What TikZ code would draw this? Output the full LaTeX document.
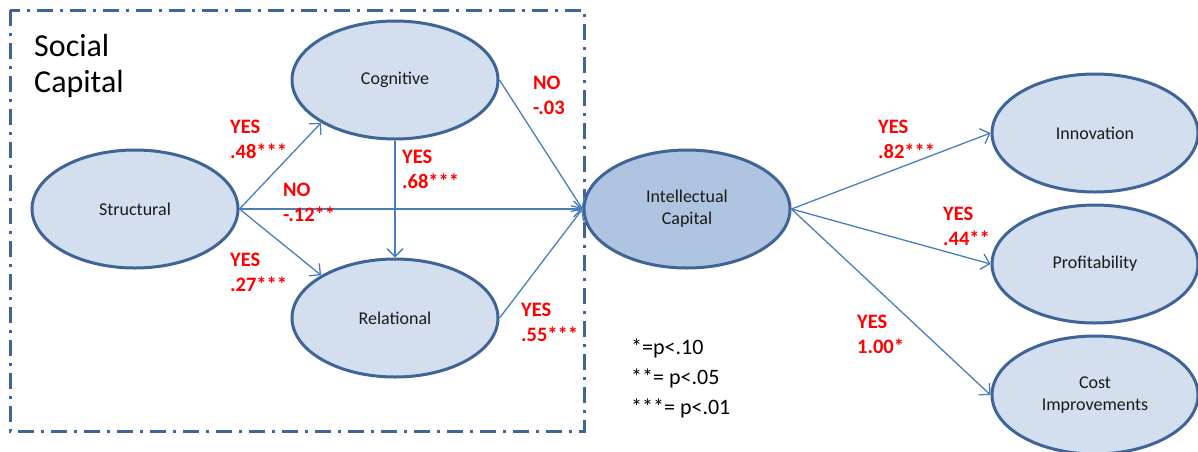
\documentclass[tikz,border=0pt]{standalone}
\usepackage{fontspec}
\setmainfont{Carlito}
\usetikzlibrary{shapes.geometric,arrows.meta}

\definecolor{ellborder}{HTML}{3F6495}
\definecolor{ellfill}{HTML}{D3DFEE}
\definecolor{icfill}{HTML}{AEC4E0}
\definecolor{linkblue}{HTML}{4A7EBB}
\definecolor{boxblue}{HTML}{3F6495}
\definecolor{textdark}{HTML}{1A1A1A}

\tikzset{
  construct/.style={ellipse, draw=ellborder, line width=3pt, fill=ellfill,
    minimum width=206pt, minimum height=118pt, inner sep=0pt, align=center,
    text=textdark, font=\fontsize{18}{22}\selectfont},
  link/.style={draw=linkblue, line width=1.3pt,
    -{Straight Barb[length=8pt,width=16pt,line width=1.3pt]}},
  coef/.style={anchor=north west, inner sep=0pt, align=left, text=red,
    font=\bfseries\fontsize{20.5}{25}\selectfont},
  legendtext/.style={anchor=north west, inner sep=0pt, align=left,
    font=\fontsize{22}{30}\selectfont},
  groupbox/.style={draw=boxblue, line width=3pt,
    dash pattern=on 16pt off 7pt on 3pt off 7pt}
}

\begin{document}
\begin{tikzpicture}[x=1pt,y=-1pt]
  \useasboundingbox (0,0) rectangle (1198,451);

  % social capital grouping frame
  \draw[groupbox] (10,10) rectangle (584,431);
  \node[anchor=north west, inner sep=0pt, align=left,
        font=\fontsize{32}{36}\selectfont] (sctitle) at (34,34) {Social\\Capital};

  % constructs
  \node[construct] (struct) at (135,209) {Structural};
  \node[construct] (cog) at (395,80) {Cognitive};
  \node[construct] (rel) at (395,318) {Relational};
  \node[construct, fill=icfill] (ic) at (687,209) {Intellectual\\Capital};
  \node[construct] (innov) at (1095,133) {Innovation};
  \node[construct] (profit) at (1095,264) {Profitability};
  \node[construct] (cost) at (1095,395) {Cost\\Improvements};

  % paths
  \draw[link] (struct.east) -- (cog.south west);
  \draw[link] (struct.east) -- (rel.north west);
  \draw[link] (struct.east) -- (ic.west);
  \draw[link] (cog.south) -- (rel.north);
  \draw[link] (cog.east) -- (ic.west);
  \draw[link] (rel.east) -- (ic.west);
  \draw[link] (ic.east) -- (innov.west);
  \draw[link] (ic.east) -- (profit.west);
  \draw[link] (ic.east) -- (cost.west);

  % path coefficients
  \node[coef] (c48) at (230,120) {YES\\.48***};
  \node[coef] (c68) at (402,150) {YES\\.68***};
  \node[coef] (c12) at (283,183) {NO\\-.12**};
  \node[coef] (c27) at (230,253) {YES\\.27***};
  \node[coef] (c03) at (533,76) {NO\\-.03};
  \node[coef] (c55) at (521,303) {YES\\.55***};
  \node[coef] (c82) at (878,120) {YES\\.82***};
  \node[coef] (c44) at (943,207) {YES\\.44**};
  \node[coef] (c100) at (857,315) {YES\\1.00*};

  % significance legend
  \node[legendtext] (legend) at (631,339) {*=p<.10\\**= p<.05\\***= p<.01};
\end{tikzpicture}
\end{document}
